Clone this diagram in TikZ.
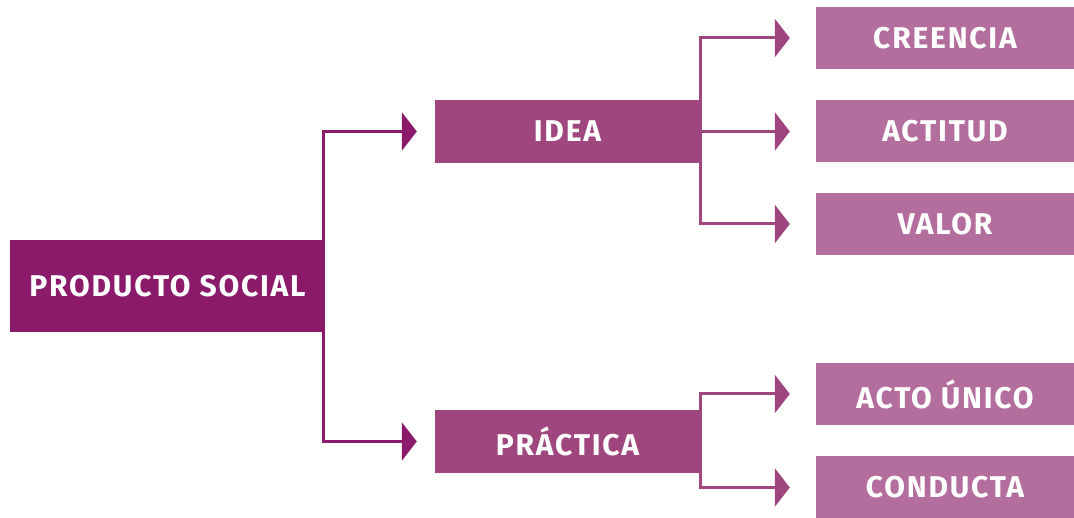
\documentclass[tikz,border=0pt]{standalone}
\usepackage{fontspec}
\setsansfont{Fira Sans}[LetterSpace=6]
\usetikzlibrary{arrows.meta}
\definecolor{rootcol}{HTML}{8C1A6A}
\definecolor{midcol}{HTML}{A0467E}
\definecolor{leafcol}{HTML}{B46E9E}
\tikzset{basic/.style={fill=rootcol,text=white,inner sep=0pt,
                       font=\sffamily\bfseries\fontsize{30}{32}\selectfont}}
\tikzset{root/.style={basic,minimum width=315pt,minimum height=92pt}}
\tikzset{middle/.style={basic,fill=midcol,minimum width=265pt,minimum height=63pt}}
\tikzset{leaf/.style={basic,fill=leafcol,minimum width=258pt,minimum height=62pt}}
\tikzset{link/.style={draw=midcol,line width=3pt,
                      -{Triangle[length=15pt,width=38pt]}}}

\begin{document}
\begin{tikzpicture}[x=1pt,y=-1pt]
    \useasboundingbox (0,0) rectangle (1074,518);
    \node[root] (prod) at (167.5,286) {PRODUCTO SOCIAL};
    \node[middle] (idea) at (567.5,131.5) {IDEA};
    \node[middle] (prac) at (567.5,441.5) {PRÁCTICA};
    \foreach \h/\y [count=\hi] in {CREENCIA/38,ACTITUD/131.5,VALOR/224}{%
          \node[leaf] (i\hi) at (945,\y) {\h};
          \draw[link] (idea.east) |- ([xshift=-26pt]i\hi.west);
        }
    \foreach \h/\y [count=\hi] in {ACTO ÚNICO/394,CONDUCTA/487.5}{%
          \node[leaf] (p\hi) at (945,\y) {\h};
          \draw[link] (prac.east) |- ([xshift=-26pt]p\hi.west);
        }
    \draw[link,draw=rootcol] ([xshift=-1.5pt]prod.east) |- ([xshift=-18pt]idea.west);
    \draw[link,draw=rootcol] ([xshift=-1.5pt]prod.east) |- ([xshift=-18pt]prac.west);
\end{tikzpicture}
\end{document}
